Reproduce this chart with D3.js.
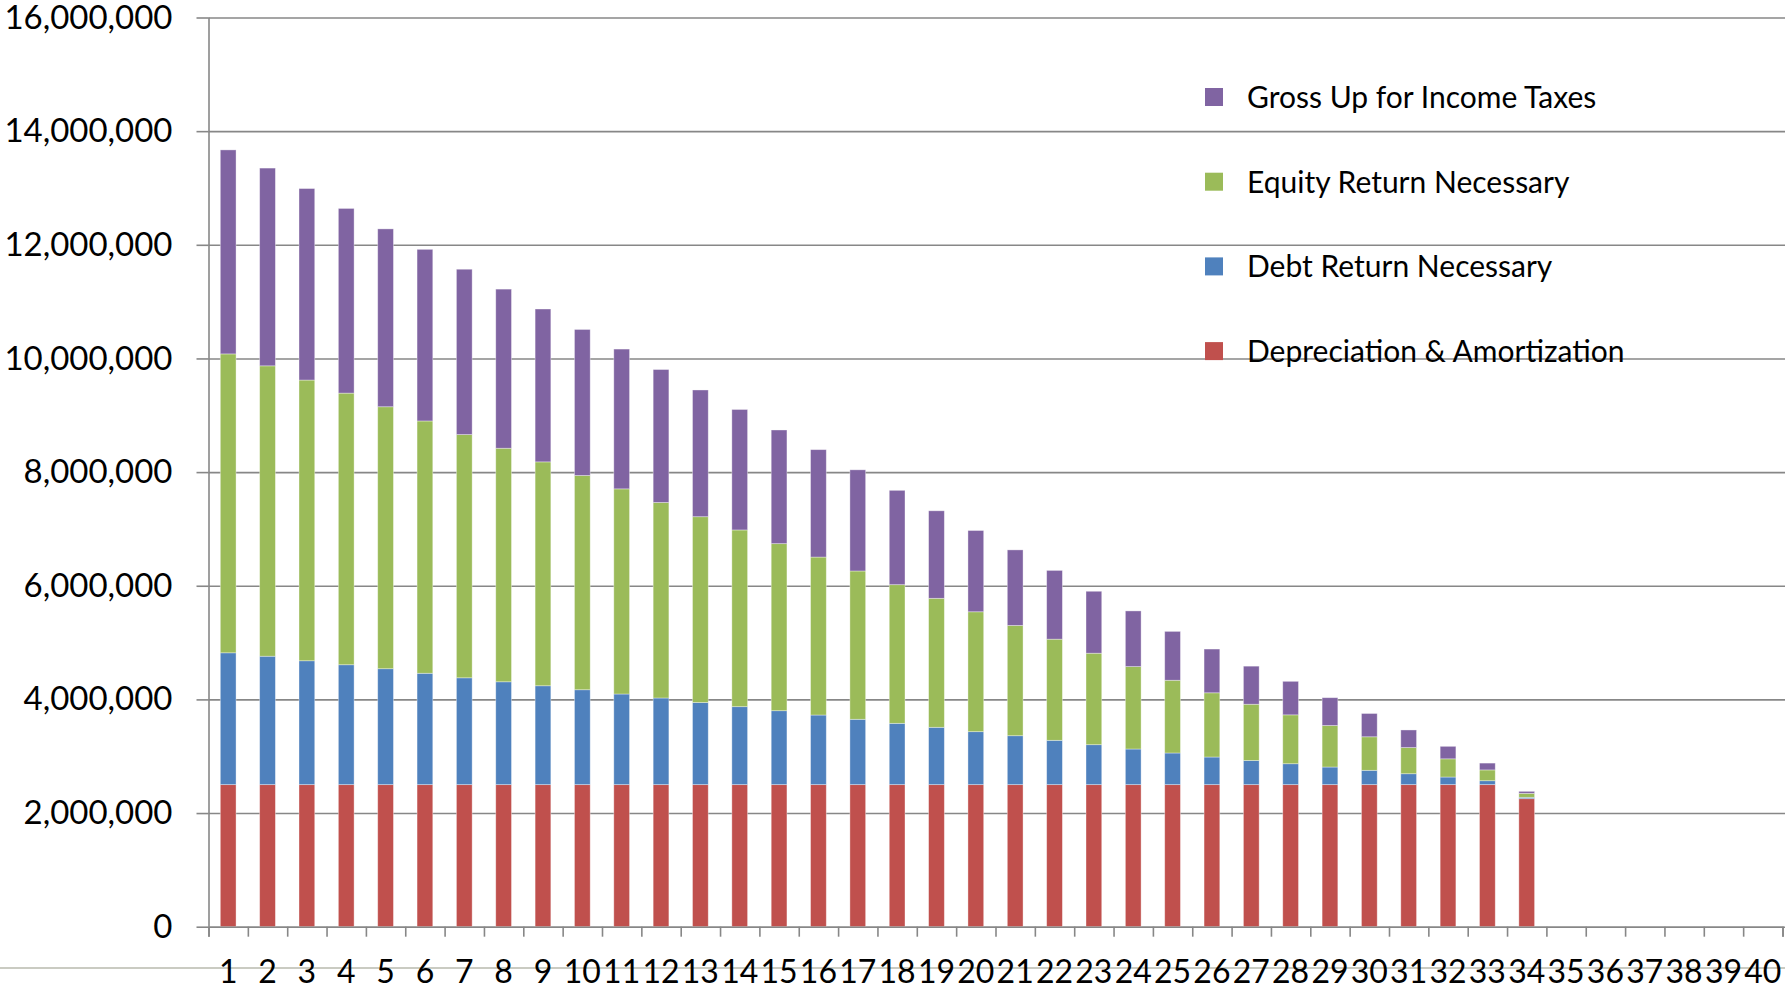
<!DOCTYPE html>
<html>
<head>
<meta charset="utf-8">
<script src="https://cdn.jsdelivr.net/npm/d3@7/dist/d3.min.js"></script>
<style>
  html, body { margin: 0; padding: 0; background: #ffffff; }
  svg { display: block; }
  text { font-family: Lato, "Open Sans", sans-serif; fill: #000; }
</style>
</head>
<body>
<svg id="chart" width="1785" height="990"></svg>
<script>
// Years on the horizontal axis (bars only exist for the first 34)
const years = d3.range(1, 41).map(String);

// Revenue requirement components per year
const depreciation = [
  2500000, 2500000, 2500000, 2500000, 2500000, 2500000, 2500000, 2500000, 2500000, 2500000,
  2500000, 2500000, 2500000, 2500000, 2500000, 2500000, 2500000, 2500000, 2500000, 2500000,
  2500000, 2500000, 2500000, 2500000, 2500000, 2500000, 2500000, 2500000, 2500000, 2500000,
  2500000, 2500000, 2500000, 2253000
];
const debtReturn = [
  2320000, 2260000, 2180000, 2110000, 2040000, 1960000, 1880000, 1810000, 1740000, 1670000,
  1595000, 1525000, 1445000, 1372000, 1301000, 1225000, 1150000, 1079000, 1009000, 932000,
  861000, 780000, 703000, 627000, 557000, 486000, 425000, 368000, 310000, 252000,
  192000, 134000, 69000, 24000
];
const equityReturn = [
  5260000, 5110000, 4940000, 4780000, 4610000, 4440000, 4280000, 4110000, 3940000, 3770000,
  3610000, 3440000, 3270000, 3110000, 2940000, 2780000, 2610000, 2440000, 2270000, 2110000,
  1940000, 1780000, 1610000, 1450000, 1280000, 1130000, 990000, 860000, 730000, 590000,
  460000, 320000, 190000, 70000
];
const grossUp = [
  3590000, 3480000, 3370000, 3250000, 3130000, 3020000, 2910000, 2800000, 2690000, 2570000,
  2460000, 2340000, 2230000, 2120000, 2000000, 1890000, 1780000, 1660000, 1540000, 1430000,
  1330000, 1210000, 1090000, 980000, 860000, 770000, 670000, 590000, 490000, 410000,
  310000, 220000, 120000, 35000
];

const yTicks = d3.range(0, 16000001, 2000000);

// Stack order bottom → top; legend lists them top → bottom
const seriesNames = [
  "Depreciation & Amortization",
  "Debt Return Necessary",
  "Equity Return Necessary",
  "Gross Up for Income Taxes"
];
const seriesValues = [depreciation, debtReturn, equityReturn, grossUp];
const seriesColors = ["#C0504D", "#4F81BD", "#9BBB59", "#8064A2"];

const rows = depreciation.map((_, i) => {
  const r = { year: years[i] };
  seriesNames.forEach((name, k) => { r[name] = seriesValues[k][i]; });
  return r;
});

const svg = d3.select("#chart");
const W = 1785, H = 990;
const plot = { left: 208.5, right: 1782.5, top: 17.5, bottom: 926.7 };

const x = d3.scaleBand()
  .domain(years)
  .range([plot.left, plot.right])
  .paddingInner(0.6)
  .paddingOuter(0.3);

const xEdge = d3.scaleLinear().domain([0, years.length]).range([plot.left, plot.right]);

const y = d3.scaleLinear().domain([0, 16000000]).range([plot.bottom, plot.top]);

const gridColor = "#878787";

// Bottom band line of the sheet
svg.append("line")
  .attr("x1", 0).attr("x2", W)
  .attr("y1", 968).attr("y2", 968)
  .attr("stroke", "#cacbc2").attr("stroke-width", 2);

// Horizontal gridlines
svg.append("g")
  .attr("transform", `translate(${plot.left},0)`)
  .call(d3.axisLeft(y).tickValues(yTicks).tickSize(-(W - plot.left)).tickFormat(""))
  .call(g => g.select(".domain").remove())
  .call(g => g.selectAll("line").attr("stroke", gridColor).attr("stroke-width", 1.6));

// Stacked bars
const stack = d3.stack().keys(seriesNames)(rows);
svg.append("g")
  .selectAll("g")
  .data(stack)
  .join("g")
  .attr("fill", (d, i) => seriesColors[i])
  .selectAll("rect")
  .data(d => d)
  .join("rect")
  .attr("x", d => x(d.data.year))
  .attr("width", x.bandwidth())
  .attr("y", d => y(d[1]))
  .attr("height", d => y(d[0]) - y(d[1]))
  .attr("stroke", "rgba(255,255,255,0.45)")
  .attr("stroke-width", 0.8);

// Y axis with labels
svg.append("g")
  .attr("transform", `translate(${plot.left},0)`)
  .call(d3.axisLeft(y).tickValues(yTicks).tickSize(12).tickPadding(24).tickFormat(d3.format(",")))
  .call(g => g.select(".domain").attr("stroke", gridColor).attr("stroke-width", 1.6)
    .attr("d", `M0.5,${plot.top}V${plot.bottom}`))
  .call(g => g.selectAll("line").attr("stroke", gridColor).attr("stroke-width", 1.6))
  .call(g => g.selectAll("text")
    .style("font-family", "Lato, 'Open Sans', sans-serif")
    .style("font-size", "33px").attr("fill", "#000"));

// X axis: tick marks at category boundaries
svg.append("g")
  .attr("transform", `translate(0,${plot.bottom})`)
  .call(d3.axisBottom(xEdge).tickValues(d3.range(0, years.length + 1)).tickSize(10).tickFormat(""))
  .call(g => g.select(".domain").attr("stroke", gridColor).attr("stroke-width", 1.6))
  .call(g => g.selectAll("line").attr("stroke", gridColor).attr("stroke-width", 1.6));

// X axis: category labels centred under each band
svg.append("g")
  .attr("transform", `translate(0,${plot.bottom})`)
  .call(d3.axisBottom(x).tickSize(0).tickPadding(34))
  .call(g => g.select(".domain").remove())
  .call(g => g.selectAll("text")
    .style("font-family", "Lato, 'Open Sans', sans-serif")
    .style("font-size", "32px").attr("fill", "#000"));

// Legend (top series first)
const legendRows = [3, 2, 1, 0];
const legend = svg.append("g");
legendRows.forEach((k, i) => {
  const cy = 97 + i * 84.7;
  legend.append("rect")
    .attr("x", 1205).attr("y", cy - 9)
    .attr("width", 18).attr("height", 18)
    .attr("fill", seriesColors[k]);
  legend.append("text")
    .attr("x", 1247).attr("y", cy + 11)
    .style("font-size", "30px")
    .text(seriesNames[k]);
});
</script>
</body>
</html>
